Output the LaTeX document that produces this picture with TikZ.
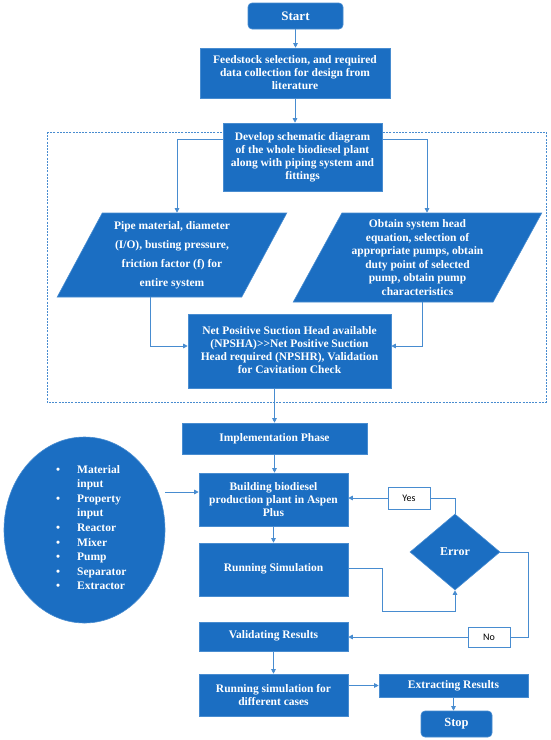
\documentclass[tikz,border=0pt]{standalone}
\usepackage{fontspec}
\setmainfont{Liberation Serif}
\newfontfamily\yesfont{Carlito}
\usetikzlibrary{shapes.geometric,arrows.meta,calc}
\definecolor{boxblue}{RGB}{27,110,194}
\definecolor{lineblue}{RGB}{72,140,208}
\tikzset{
  box/.style={draw=lineblue,line width=0.6pt,fill=boxblue,text=white,inner sep=0pt,align=center,
    font=\fontsize{11.5}{13}\selectfont\bfseries},
  rbox/.style={box,rounded corners=4pt},
  para/.style={box,trapezium,trapezium stretches=true},
  lbl/.style={draw=lineblue,line width=0.6pt,fill=white,inner sep=0pt,font=\yesfont\fontsize{10}{12}\selectfont},
  conn/.style={draw=lineblue,line width=0.8pt},
  arr/.style={conn,-{Triangle[length=4.5pt,width=4.5pt]}},
}
\begin{document}
\begin{tikzpicture}[x=1pt,y=-1pt]
\useasboundingbox (0,0) rectangle (550,740);
% dashed frame
\draw[lineblue,line width=0.7pt,dash pattern=on 2pt off 1.2pt] (47,132) rectangle (546,402);

\node[rbox,minimum width=95pt,minimum height=26pt,font=\fontsize{13}{15}\selectfont\bfseries] (start) at (295.5,16) {Start};
\node[box,minimum width=190pt,minimum height=50pt] (feed) at (295,73)
  {Feedstock selection, and required\\data collection for design from\\literature};
\node[box,minimum width=159pt,minimum height=68pt] (dev) at (302.5,157)
  {Develop schematic diagram\\of the whole biodiesel plant\\along with piping system and\\fittings};
\node[para,trapezium left angle=61,trapezium right angle=119,minimum width=230pt,minimum height=84pt,
  font=\fontsize{11.5}{19}\selectfont\bfseries] (pipe) at (172,255)
  {Pipe material, diameter\\(I/O), busting pressure,\\friction factor (f) for\\entire system};
\node[para,trapezium left angle=60.7,trapezium right angle=119.3,minimum width=249pt,minimum height=89pt,
  font=\fontsize{11.5}{13.5}\selectfont\bfseries] (obtain) at (417.5,257.5)
  {Obtain system head\\equation, selection of\\appropriate pumps, obtain\\duty point of selected\\pump, obtain pump\\characteristics};
\node[box,minimum width=203pt,minimum height=74pt] (npsh) at (289.5,351)
  {\raisebox{5pt}{\begin{tabular}{@{}c@{}}Net Positive Suction Head available\\(NPSHA)>{}>Net Positive Suction\\Head required (NPSHR), Validation\\for Cavitation Check\end{tabular}}};

\node[box,minimum width=185pt,minimum height=31pt] (impl) at (274.5,438.5) {Implementation Phase};
\node[box,minimum width=149pt,minimum height=53pt] (build) at (273.5,499.5)
  {Building biodiesel\\production plant in Aspen\\Plus};
\node[box,minimum width=149pt,minimum height=53pt] (run) at (273.5,569.5)
  {\raisebox{4pt}{Running Simulation}};
\node[box,minimum width=149pt,minimum height=29pt] (valid) at (273.5,636.5)
  {\raisebox{4pt}{Validating Results}};
\node[box,minimum width=149pt,minimum height=42pt] (cases) at (273.5,695)
  {Running simulation for\\different cases};
\node[box,minimum width=149pt,minimum height=23pt] (extract) at (453.5,685.5) {Extracting Results};
\node[rbox,minimum width=71pt,minimum height=26pt,font=\fontsize{12.5}{15}\selectfont\bfseries] (stop) at (456.5,724) {Stop};

\node[box,ellipse,minimum width=161pt,minimum height=186pt] (ell) at (84.5,530) {};
\node[text=white,align=left,inner sep=0pt,anchor=west,font=\fontsize{11.5}{14.6}\selectfont\bfseries] (items) at (56,527.5)
  {\makebox[21pt][l]{\textbullet}Material\\
   \hspace*{21pt}input\\
   \makebox[21pt][l]{\textbullet}Property\\
   \hspace*{21pt}input\\
   \makebox[21pt][l]{\textbullet}Reactor\\
   \makebox[21pt][l]{\textbullet}Mixer\\
   \makebox[21pt][l]{\textbullet}Pump\\
   \makebox[21pt][l]{\textbullet}Separator\\
   \makebox[21pt][l]{\textbullet}Extractor};

\node[box,diamond,minimum width=90pt,minimum height=76pt,font=\fontsize{12}{14}\selectfont\bfseries] (err) at (455,552) {Error};
\node[lbl,minimum width=42pt,minimum height=22pt] (yes) at (409,498) {Yes};
\node[lbl,minimum width=42pt,minimum height=20pt] (no) at (489,637) {No};

% connectors
\draw[arr] (start.south) -- (start.south |- feed.north);
\draw[arr] (feed.south) -- (feed.south |- dev.north);
\draw[arr] ([yshift=-17pt]dev.north west) -| ([xshift=5pt]pipe.north);
\draw[arr] ([yshift=-17pt]dev.north east) -| ([xshift=9.5pt]obtain.north);
\draw[arr] ([xshift=-22pt]pipe.south) |- ([yshift=5pt]npsh.west);
\draw[arr] ([xshift=4.5pt]obtain.south) |- ([yshift=5pt]npsh.east);
\draw[arr] (impl.north |- npsh.south) -- (impl.north);
\draw[arr] (impl.south) -- (impl.south |- build.north);
\coordinate (bin) at ([yshift=7.5pt]build.west);
\draw[arr] (ell.east |- bin) -- (bin);
\draw[arr] (build.south) -- (run.north);
\draw[arr] ([yshift=1.5pt]run.east) -- ++(34,0) |- ([yshift=-21pt]err.south) -- (err.south);
\draw[conn] (err.north) |- (yes.east);
\draw[arr] (yes.west) -- (build.east |- yes.west);
\draw[conn] (err.east) -- ++(28,0) |- (no.east);
\draw[arr] (no.west) -- (valid.east |- no.west);
\draw[arr] (valid.south) -- (cases.north);
\draw[arr] (cases.east |- extract.west) -- (extract.west);
\draw[arr] (extract.south) -- (extract.south |- stop.north);
\end{tikzpicture}
\end{document}
